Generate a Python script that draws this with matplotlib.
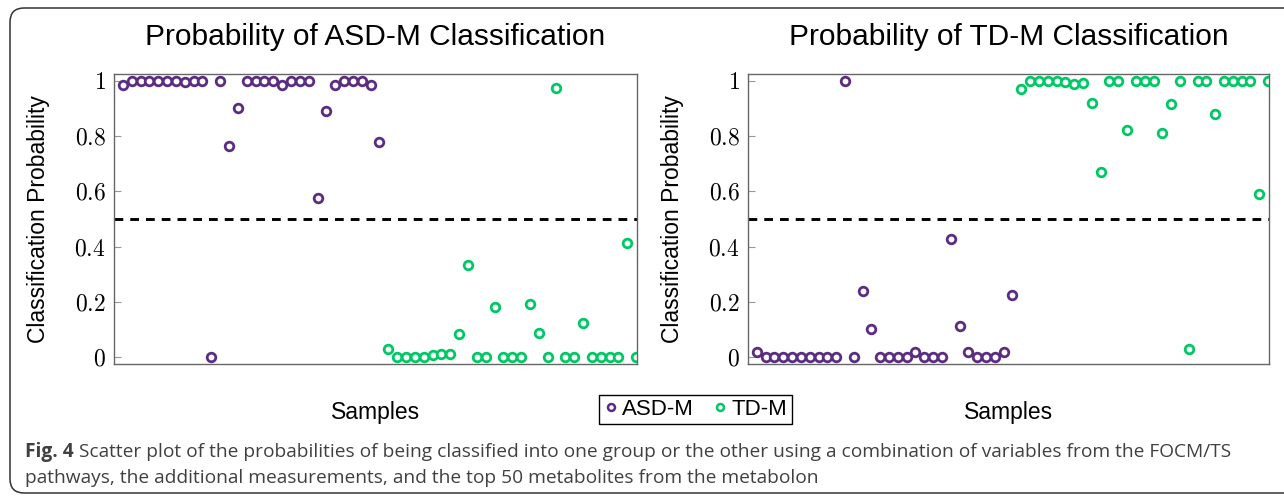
import numpy as np
import matplotlib
matplotlib.use('Agg')
import matplotlib.pyplot as plt
from matplotlib.lines import Line2D
from matplotlib.patches import FancyBboxPatch

# probabilities, samples 1..59
asd_left = [0.985, 1, 1, 1, 1, 1, 1, 0.996, 1, 1, 0, 1, 0.763, 0.90, 1, 1, 1, 1,
            0.985, 1, 1, 1, 0.576, 0.89, 0.985, 1, 1, 1, 0.983, 0.778]
td_left = [0.031, 0, 0, 0, 0, 0.007, 0.012, 0.012, 0.083, 0.334, 0, 0, 0.182, 0, 0,
           0, 0.192, 0.088, 0, 0.975, 0, 0, 0.124, 0, 0, 0, 0, 0.412, 0]
asd_right = [0.017, 0, 0, 0, 0, 0, 0, 0.002, 0, 0, 1, 0, 0.239, 0.103, 0, 0, 0, 0,
             0.017, 0, 0, 0, 0.426, 0.112, 0.017, 0, 0, 0, 0.019, 0.225]
td_right = [0.971, 1, 1, 1, 1, 0.994, 0.988, 0.99, 0.919, 0.668, 1, 1, 0.82, 1, 1,
            1, 0.809, 0.914, 1, 0.028, 1, 1, 0.878, 1, 1, 1, 1, 0.59, 1]
titles = ['Probability of ASD-M Classification', 'Probability of TD-M Classification']
yticks = [0, 0.2, 0.4, 0.6, 0.8, 1]
ytick_labels = ['$0$', '$0.2$', '$0.4$', '$0.6$', '$0.8$', '$1$']

purple = '#5b2c83'
green = '#00c865'

plt.rcParams['font.family'] = ['Liberation Sans', 'DejaVu Sans']
plt.rcParams['mathtext.fontset'] = 'cm'

W, H = 1284, 497
fig = plt.figure(figsize=(W / 100, H / 100), dpi=100)


def px(x0, y0, x1, y1):
    return [x0 / W, 1 - y1 / H, (x1 - x0) / W, (y1 - y0) / H]


# rounded figure border
fig.patches.append(FancyBboxPatch((10 / W, 1 - 493 / H), 1300 / W, 485 / H,
                                  boxstyle='round,pad=0,rounding_size=0.011',
                                  transform=fig.transFigure, fill=False,
                                  edgecolor='#333333', lw=1.1, mutation_aspect=W / H))

panels = [(asd_left, td_left, 114, 637), (asd_right, td_right, 748, 1269)]
for k, (asd, td, x0, x1) in enumerate(panels):
    ax = fig.add_axes(px(x0, 74, x1, 364))
    xa = np.arange(1, len(asd) + 1)
    xt = np.arange(len(asd) + 1, len(asd) + len(td) + 1)
    ax.plot(xa, asd, 'o', ms=6.2, mfc='white', mec=purple, mew=2.0, ls='none')
    ax.plot(xt, td, 'o', ms=6.2, mfc='white', mec=green, mew=2.0, ls='none')
    ax.axhline(0.5, color='black', lw=2.1, ls=(0, (3.0, 2.4)))
    ax.set_xlim(0, 59.1)
    ax.set_ylim(-0.025, 1.024)
    ax.set_xticks([])
    ax.set_yticks(yticks)
    ax.set_yticklabels(ytick_labels, fontsize=17)
    ax.tick_params(axis='y', direction='in', length=5, color='#999999', pad=6)
    for s in ax.spines.values():
        s.set_color('#666666')
        s.set_linewidth(1.0)
    cx = (x0 + x1) / 2 / W
    fig.text(cx, 1 - 37 / H, titles[k], fontsize=21.5, ha='center', va='center')
    fig.text((x0 - 75) / W, 1 - 219 / H, 'Classification Probability', fontsize=16.5,
             rotation=90, ha='center', va='center')
    fig.text(cx, 1 - 412 / H, 'Samples', fontsize=16.5, ha='center', va='center')

handles = [Line2D([], [], marker='o', ls='none', ms=5, mfc='white', mec=purple, mew=1.8),
           Line2D([], [], marker='o', ls='none', ms=5, mfc='white', mec=green, mew=1.8)]
leg = fig.legend(handles, ['ASD-M', 'TD-M'], loc='center', ncol=2,
                 bbox_to_anchor=(695.5 / W, 1 - 409.5 / H), fontsize=16,
                 handlelength=0.6, handletextpad=0.2, columnspacing=0.9,
                 borderpad=0.2, borderaxespad=0, fancybox=False,
                 edgecolor='black', framealpha=1)
leg.get_frame().set_linewidth(1.0)

# caption with bold "Fig. 4"
cap_color = '#404040'
fig.canvas.draw()
r = fig.canvas.get_renderer()
t = fig.text(25 / W, 1 - 452 / H, 'Fig. 4', fontsize=13.8, fontweight='bold',
             family='Open Sans', color=cap_color, va='center')
bb = t.get_window_extent(r)
fig.text(bb.x1 / W + 5 / W, 1 - 452 / H,
         'Scatter plot of the probabilities of being classified into one group or the other '
         'using a combination of variables from the FOCM/TS',
         fontsize=13.8, family='Open Sans', color=cap_color, va='center')
fig.text(25 / W, 1 - 478 / H,
         'pathways, the additional measurements, and the top 50 metabolites from the metabolon',
         fontsize=13.8, family='Open Sans', color=cap_color, va='center')

fig.savefig('out.png', dpi=100)
